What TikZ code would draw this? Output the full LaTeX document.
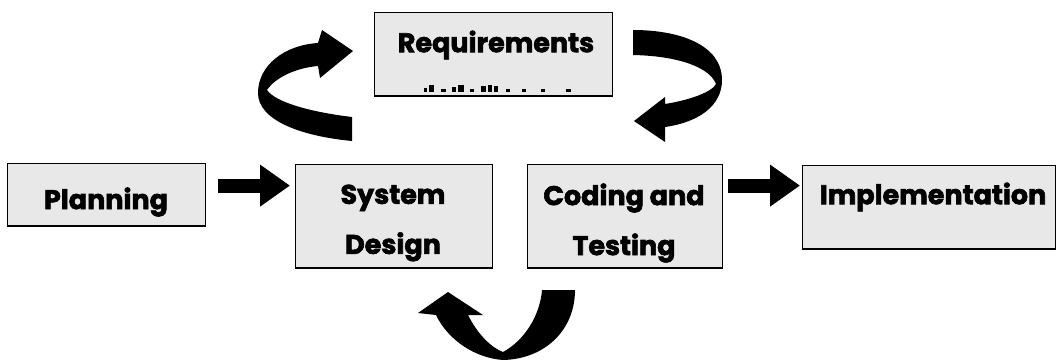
\documentclass[tikz,border=0pt]{standalone}
\usepackage{fontspec}
\setmainfont{Poppins}[BoldFeatures={FakeBold=2.2}]
\usetikzlibrary{arrows.meta,calc}
\begin{document}
\begin{tikzpicture}[x=1pt,y=-1pt,
  stage/.style={draw=black, line width=1.2pt, fill=black!9, inner sep=0pt, anchor=north west},
  stagetext/.style={font=\bfseries\fontsize{27}{50}\selectfont, align=center, inner sep=0pt},
  blockarrow/.style={line width=14pt, line cap=butt, -{Triangle[length=30pt,width=40pt]}},
  bentarrow/.style={fill=black}
]
\useasboundingbox (0,0) rectangle (1057,359);

% stage boxes
\node[stage, minimum width=198pt, minimum height=62pt]  (pl)  at (7,163)   {};
\node[stage, minimum width=238pt, minimum height=83pt]  (req) at (374,12)  {};
\node[stage, minimum width=197pt, minimum height=103pt] (sd)  at (295,164) {};
\node[stage, minimum width=195pt, minimum height=103pt] (ct)  at (527,164) {};
\node[stage, minimum width=253pt, minimum height=83pt]  (im)  at (802,165) {};

% heavier lower edges
\foreach \b in {pl,req,sd,ct,im}
  \draw[line width=2pt] (\b.south west) -- (\b.south east);

% stage titles
\node[stagetext] (plt)  at (106,202)   {Planning};
\node[stagetext] (reqt) at (496,45)    {Requirements};
\node[stagetext] (sdt)  at (393,223)   {System\\Design};
\node[stagetext] (ctt)  at (624,223)   {Coding and\\Testing};
\node[stagetext] (imt)  at (933,197)   {Implementation};

% faint second line of the requirements box
\foreach \xa/\xb/\h in {424/427/4, 429/434/7, 441/446/3, 452/456/5, 458/464/7,
                        470/474/3, 481/486/6, 488/492/7, 494/498/6, 506/510/3,
                        522/526/3, 541/545/3, 566/571/3}
  \fill (\xa,92) rectangle (\xb,92-\h);

% straight block arrows
\coordinate (a1s) at ($(pl.east)+(12,-9)$);
\draw[blockarrow, shorten >=5pt] (a1s) -- (a1s -| sd.west);
\coordinate (a2s) at ($(ct.east |- a1s)+(5,0)$);
\draw[blockarrow, shorten >=2pt] (a2s) -- (a2s -| im.west);

% curved arrow: system design -> requirements
\fill[bentarrow] (318,43) .. controls (285,45) and (258,65) .. (258,93)
  .. controls (258,120) and (300,136) .. (352,141)
  -- (352,117)
  .. controls (310,112) and (275,102) .. (267,90)
  .. controls (275,78) and (295,68) .. (318,66)
  -- (320,78) -- (353,51) -- (322,30) -- cycle;

% curved arrow: requirements -> coding and testing
\fill[bentarrow] (633,30) .. controls (680,30) and (722,45) .. (722,80)
  .. controls (722,105) and (700,122) .. (665,127)
  -- (665,142) -- (634,121) -- (665,97) -- (665,104)
  .. controls (690,100) and (712,92) .. (716,84)
  .. controls (710,68) and (680,56) .. (633,55) -- cycle;

% curved arrow: coding and testing -> system design
\fill[bentarrow] (575,290) .. controls (575,330) and (545,359) .. (503,360)
  .. controls (475,358) and (448,340) .. (436,315)
  -- (418,313) -- (448,292) -- (483,315) -- (468,315)
  .. controls (478,335) and (492,348) .. (503,352)
  .. controls (525,340) and (540,315) .. (542,290) -- cycle;
\end{tikzpicture}
\end{document}
